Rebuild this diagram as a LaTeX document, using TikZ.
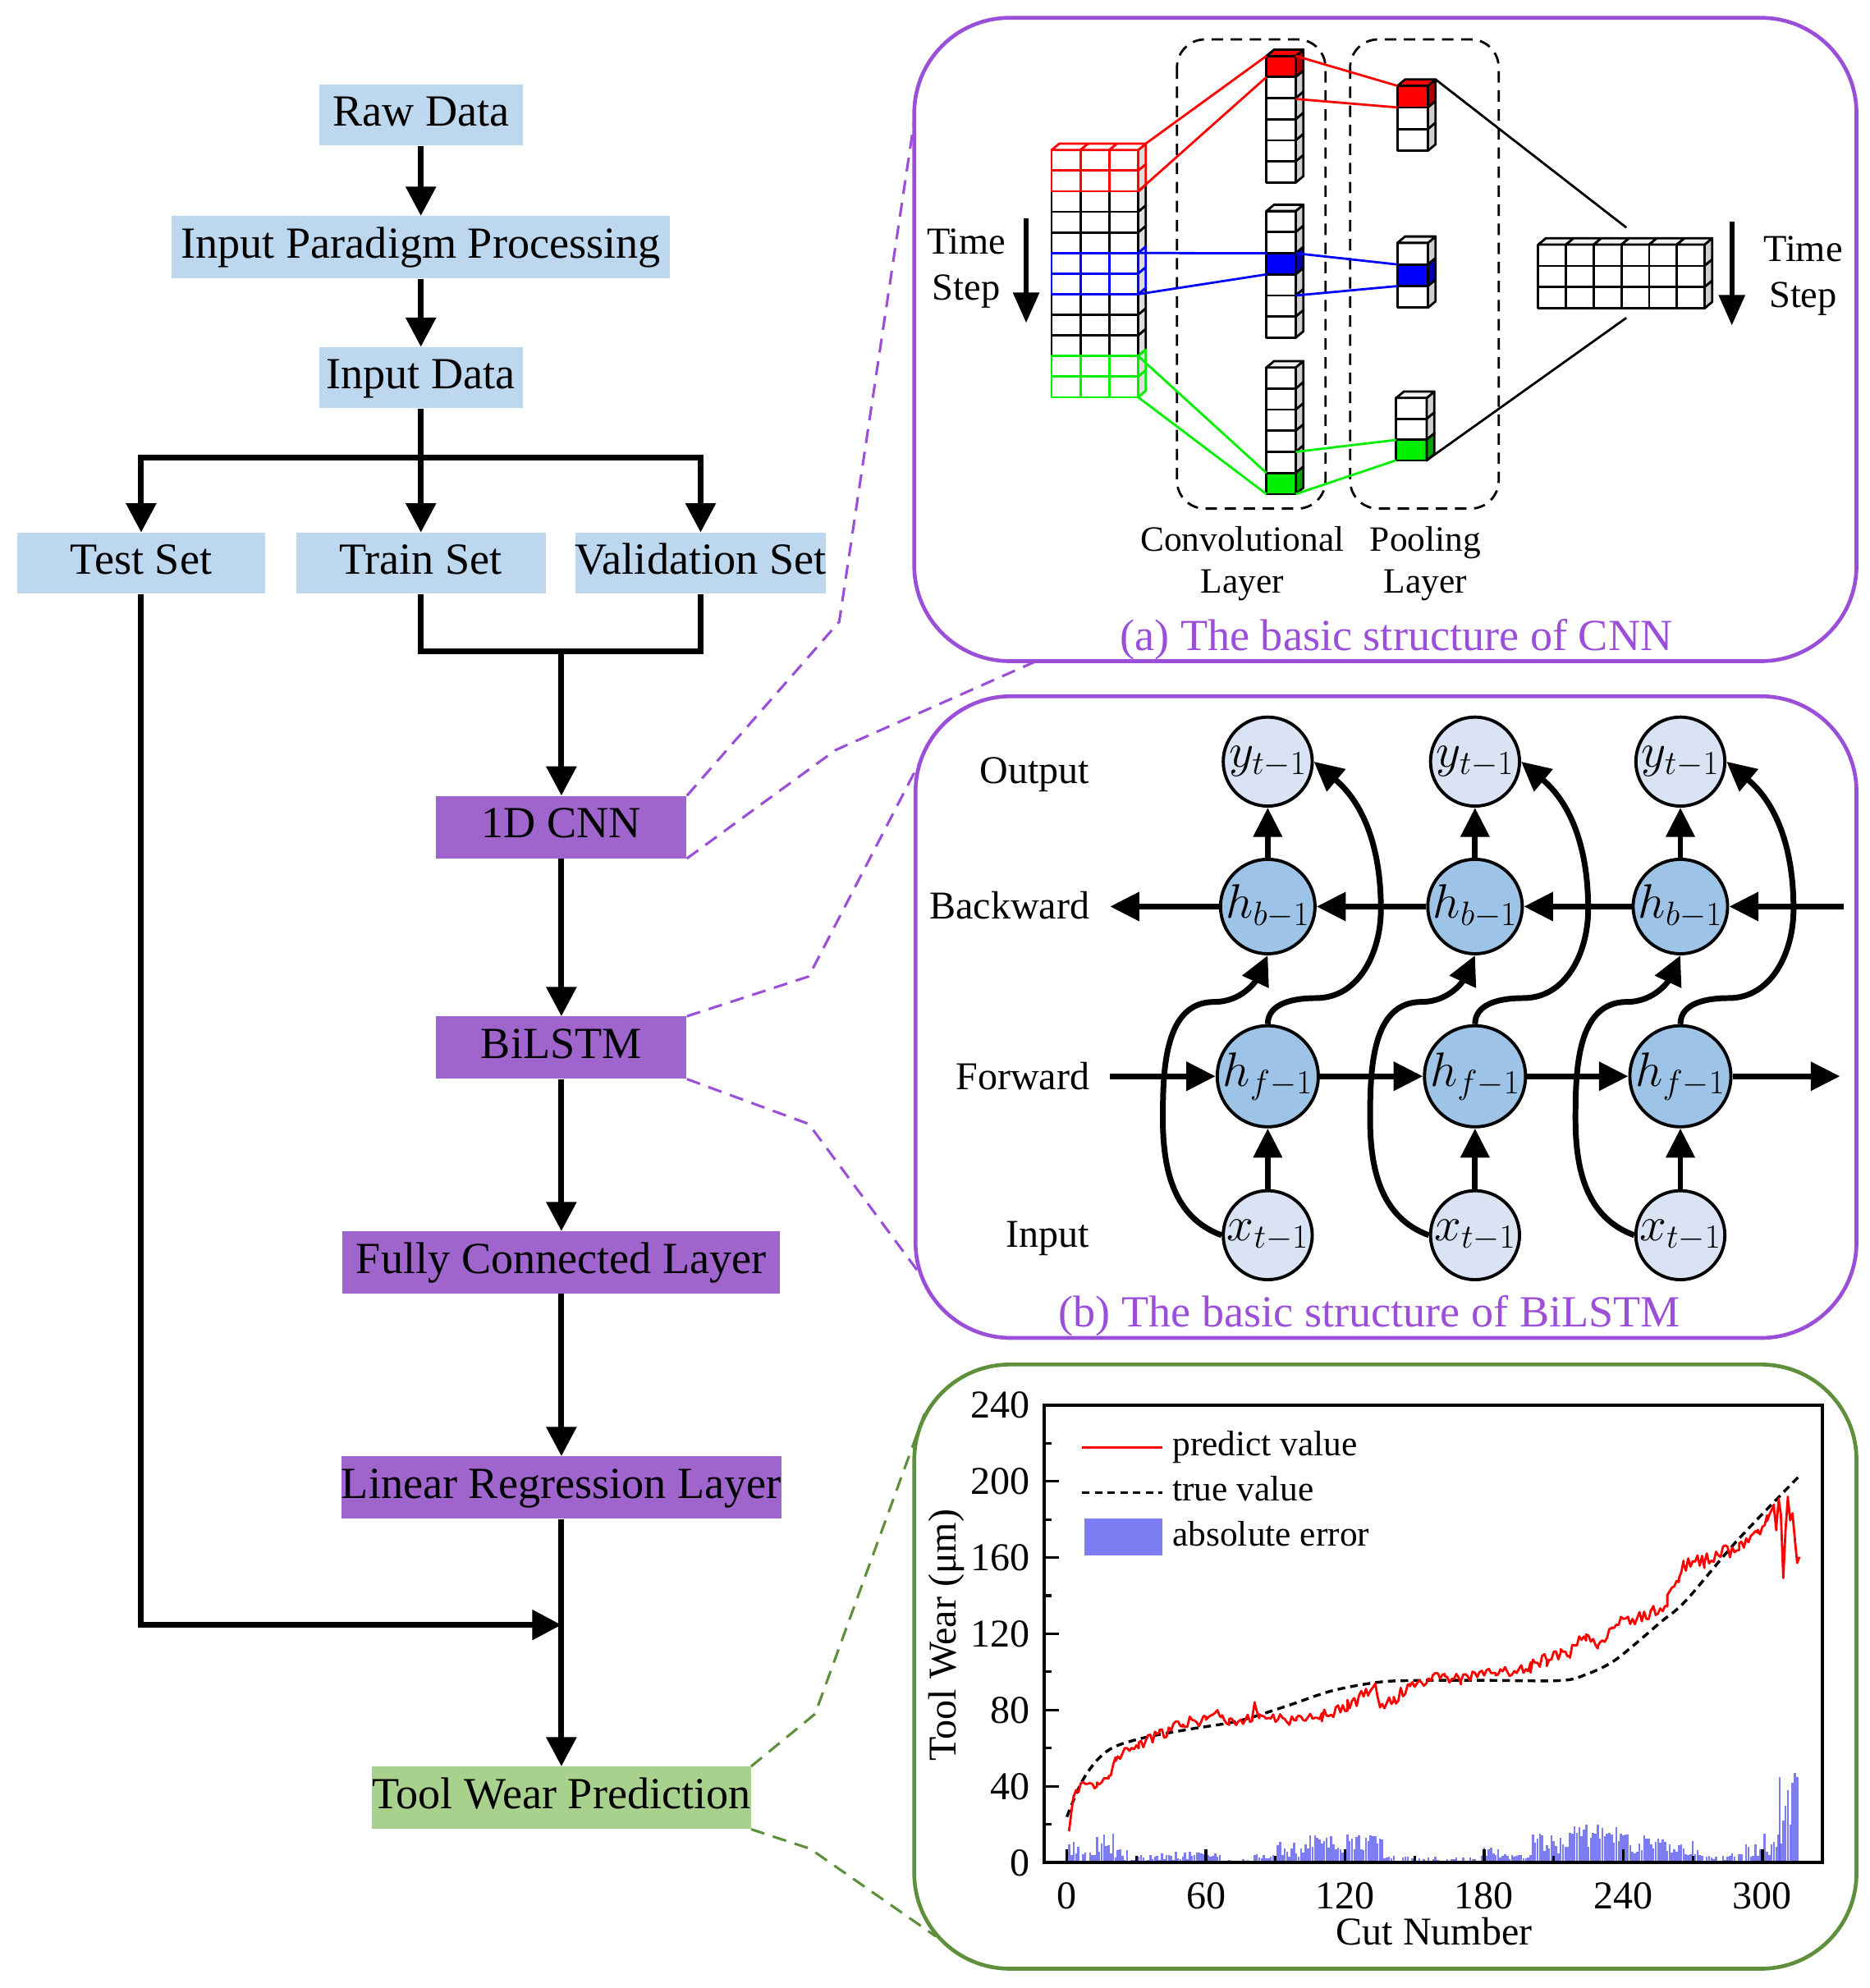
\documentclass[tikz,border=0pt]{standalone}
\usepackage{fix-cm}
\usepackage{fontspec}
\setmainfont{Liberation Serif}
\usetikzlibrary{arrows.meta}
\definecolor{fbBlue}{HTML}{BDD7EE}
\definecolor{fbPurple}{HTML}{A064CD}
\definecolor{fbGreen}{HTML}{A9D18E}
\definecolor{frPurple}{HTML}{9B4FD8}
\definecolor{frGreen}{HTML}{5E8F3A}
\definecolor{cLight}{HTML}{DAE3F3}
\definecolor{cMid}{HTML}{9DC3E6}
\definecolor{sideGray}{HTML}{CFCFCF}
\definecolor{barBlue}{HTML}{5C5CF0}
\definecolor{pureGreen}{HTML}{00EE00}

\newcommand{\stackcol}[7]{%
  \foreach \rr in {1,...,#3}{%
    \pgfmathsetmacro{\yy}{#2+(\rr-1)*#5}%
    \ifnum\rr=#6\relax
      \draw[cubeline, fill=#7] (#1,\yy) rectangle ++(#4,#5);
      \draw[cubeline, fill=#7!70!black] (#1+#4,\yy) -- ++(6,-5) -- ++(0,#5) -- ++(-6,5) -- cycle;
    \else
      \draw[cubeline, fill=white] (#1,\yy) rectangle ++(#4,#5);
      \draw[cubeline, fill=sideGray] (#1+#4,\yy) -- ++(6,-5) -- ++(0,#5) -- ++(-6,5) -- cycle;
    \fi}%
  \ifnum#6=1\relax
    \draw[cubeline, fill=#7] (#1,#2) -- ++(6,-5) -- ++(#4,0) -- ++(-6,5) -- cycle;
  \else
    \draw[cubeline, fill=black!6] (#1,#2) -- ++(6,-5) -- ++(#4,0) -- ++(-6,5) -- cycle;
  \fi
}

\begin{document}
\begin{tikzpicture}[x=1pt,y=-1pt,
  flowtxt/.style={font=\fontsize{35}{40}\selectfont, text height=24pt, text depth=7pt, inner sep=0pt},
  bluebox/.style={flowtxt, fill=fbBlue, minimum height=48pt},
  purplebox/.style={flowtxt, fill=fbPurple, minimum height=49pt},
  greenbox/.style={flowtxt, fill=fbGreen, minimum height=49pt},
  conn/.style={line width=4.5pt},
  arr/.style={conn, -{Triangle[length=23pt,width=23pt]}},
  pdash/.style={draw=frPurple, line width=2pt, dash pattern=on 11pt off 7pt},
  gdash/.style={draw=frGreen, line width=2pt, dash pattern=on 11pt off 7pt},
  frameP/.style={draw=frPurple, line width=3pt, rounded corners=75pt},
  frameG/.style={draw=frGreen, line width=3pt, rounded corners=75pt},
  cubeline/.style={line width=1.8pt, line join=round},
  thinlink/.style={line width=1.8pt},
  dashbox/.style={line width=1.8pt, rounded corners=22pt, dash pattern=on 9pt off 6pt},
  lbl/.style 2 args={font=\fontsize{#1}{#2}\selectfont, inner sep=0pt},
  lightcirc/.style={circle, draw, line width=2.5pt, fill=cLight, minimum size=70pt, inner sep=0pt, font=\fontsize{38}{42}\selectfont},
  midcirc/.style={lightcirc, fill=cMid},
  barr/.style={conn, -{Triangle[length=23pt,width=22pt]}},
  tsarr/.style={line width=4pt, -{Triangle[length=24pt,width=20pt]}},
  ticklab/.style={font=\fontsize{31}{35}\selectfont, inner sep=0pt, text height=21pt, text depth=0pt},
  leglab/.style={font=\fontsize{28}{32}\selectfont, inner sep=0pt, anchor=west, text height=19pt, text depth=6pt},
  predline/.style={draw=red, line width=1.8pt, line join=round},
  trueline/.style={draw=black, line width=2.2pt, dash pattern=on 6pt off 4pt},
  barfill/.style={fill=barBlue, fill opacity=0.8}
]
\useasboundingbox (0,0) rectangle (1470,1563.6);

% ================= flowchart =================
\node[bluebox, minimum width=160pt] (raw) at (331,90.5) {Raw Data};
\node[bluebox, minimum width=392pt, minimum height=49pt] (ipp) at (331,194.5) {Input Paradigm Processing};
\node[bluebox, minimum width=160pt] (inp) at (331,297) {Input Data};
\node[bluebox, minimum width=195pt] (test) at (111,443) {Test Set};
\node[bluebox, minimum width=196pt] (train) at (331,443) {Train Set};
\node[bluebox, minimum width=197pt] (val) at (551,443) {Validation Set};
\node[purplebox, minimum width=197pt] (cnn) at (441.5,650.5) {1D CNN};
\node[purplebox, minimum width=197pt] (bilstm) at (441.5,824) {BiLSTM};
\node[purplebox, minimum width=344pt] (fc) at (441.5,993) {Fully Connected Layer};
\node[purplebox, minimum width=344pt] (lr) at (441.5,1170) {Linear Regression Layer};
\node[greenbox, minimum width=297pt] (twp) at (441.5,1414) {Tool Wear Prediction};

\coordinate (br) at (331,360);
\coordinate (mg) at (441.5,512);
\coordinate (jn) at (441.5,1278);

\draw[arr] (raw) -- (ipp);
\draw[arr] (ipp) -- (inp);
\draw[conn] (inp.south) -- (br);
\draw[arr] (br) -| (test.north);
\draw[arr] (br) -| (val.north);
\draw[arr] (br) -- (train.north);
\draw[conn] (train.south) |- (mg) -| (val.south);
\draw[arr] (mg) -- (cnn.north);
\draw[arr] (cnn) -- (bilstm);
\draw[arr] (bilstm) -- (fc);
\draw[arr] (fc) -- (lr);
\draw[arr] (lr) -- (twp);
\draw[arr] (test.south) |- (jn);

% ================= frames =================
\draw[frameP] (719,14) rectangle (1460,520);
\draw[frameP] (720,547.6) rectangle (1460,1052.3);
\draw[frameG] (719,1073.2) rectangle (1460,1548.4);

% zoom connectors
\coordinate (k1) at (660,489);  \coordinate (a1) at (719,95);
\coordinate (k2) at (657,590);  \coordinate (a2) at (815,520);
\coordinate (k3) at (636,768);  \coordinate (b1) at (723,600);
\coordinate (k4) at (636,884);  \coordinate (b2) at (722,1000);
\coordinate (k5) at (641,1348); \coordinate (c1) at (727,1112);
\coordinate (k6) at (637,1454); \coordinate (c2) at (736,1523);
\draw[pdash] (cnn.north east) -- (k1) -- (a1);
\draw[pdash] (cnn.south east) -- (k2) -- (a2);
\draw[pdash] (bilstm.north east) -- (k3) -- (b1);
\draw[pdash] (bilstm.south east) -- (k4) -- (b2);
\draw[gdash] (twp.north east) -- (k5) -- (c1);
\draw[gdash] (twp.south east) -- (k6) -- (c2);

% ================= (a) CNN =================
\draw[dashbox] (925.6,31) rectangle (1042.4,400);
\draw[dashbox] (1061.8,31) rectangle (1178.6,400);

% input block
\foreach \rr/\cc in {2/black,3/black,4/black,7/black,8/black,9/black,0/red,1/red,5/blue,6/blue,10/pureGreen,11/pureGreen}{
  \pgfmathsetmacro{\yy}{118+\rr*16.2}
  \foreach \kk in {0,1,2}{\draw[cubeline, draw=\cc, fill=white] (827+\kk*22.7,\yy) rectangle ++(22.7,16.2);}
  \draw[cubeline, draw=\cc, fill=sideGray!70] (895.1,\yy) -- ++(6,-5) -- ++(0,16.2) -- ++(-6,5) -- cycle;
}
\foreach \kk in {0,1,2}{\draw[cubeline, draw=red, fill=white] (827+\kk*22.7,118) -- ++(6,-5) -- ++(22.7,0) -- ++(-6,5) -- cycle;}

% conv columns
\stackcol{996}{44}{6}{23}{16.6}{1}{red}
\stackcol{996}{166}{6}{23}{16.6}{3}{blue}
\stackcol{996}{289}{6}{23}{16.6}{6}{pureGreen}
% pool columns
\stackcol{1099}{67.5}{3}{24}{17}{1}{red}
\stackcol{1099}{191}{3}{24}{17}{2}{blue}
\stackcol{1098}{313}{3}{24}{16.4}{3}{pureGreen}
% output block
\foreach \rr in {0,1,2}{
  \foreach \kk in {0,...,5}{\draw[cubeline, fill=white] (1209.7+\kk*21.8,192.4+\rr*16.7) rectangle ++(21.8,16.7);}
  \draw[cubeline, fill=sideGray] (1340.5,192.4+\rr*16.7) -- ++(6,-5) -- ++(0,16.7) -- ++(-6,5) -- cycle;
}
\foreach \kk in {0,...,5}{\draw[cubeline, fill=black!6] (1209.7+\kk*21.8,192.4) -- ++(6,-5) -- ++(21.8,0) -- ++(-6,5) -- cycle;}

% links
\draw[thinlink, red] (901,113) -- (996,44);
\draw[thinlink, red] (895.1,150.4) -- (996,60.6);
\draw[thinlink, red] (1019,44) -- (1099,67.5);
\draw[thinlink, red] (1019,77.8) -- (1099,84.5);
\draw[thinlink, blue] (895.1,199) -- (996,199.2);
\draw[thinlink, blue] (895.1,231.4) -- (996,215.8);
\draw[thinlink, blue] (1019,199.2) -- (1099,208);
\draw[thinlink, blue] (1019,232.4) -- (1099,225);
\draw[thinlink, pureGreen] (895.1,280) -- (996,372);
\draw[thinlink, pureGreen] (895.1,312.4) -- (996,388.6);
\draw[thinlink, pureGreen] (1019,355.4) -- (1098,346);
\draw[thinlink, pureGreen] (1019,388.6) -- (1098,362);
\draw[thinlink, black] (1129,62.5) -- (1279,179);
\draw[thinlink, black] (1122,362) -- (1279,250);

% labels
\node[lbl={30}{36}, align=center] (tsl) at (760,211) {Time\\Step};
\node[lbl={30}{36}, align=center] (tsr) at (1418,217) {Time\\Step};
\coordinate (tla) at (807,172); \coordinate (tlb) at (807,254);
\coordinate (tra) at (1362,174); \coordinate (trb) at (1362,256);
\draw[tsarr] (tla) -- (tlb);
\draw[tsarr] (tra) -- (trb);
\node[lbl={28}{33}, align=center] (convl) at (977,443) {Convolutional\\Layer};
\node[lbl={28}{33}, align=center] (pooll) at (1121,443) {Pooling\\Layer};
\node[lbl={35}{40}, text=frPurple] (capa) at (1098,503) {(a) The basic structure of CNN};

% ================= (b) BiLSTM =================
\foreach \c/\cx in {1/997,2/1160,3/1321.5}{
  \node[lightcirc] (y\c) at (\cx,599) {$y_{t-1}$};
  \node[midcirc] (hb\c) at (\cx,713) {$h_{b-1}$};
  \node[midcirc] (hf\c) at (\cx,846.5) {$h_{f-1}$};
  \node[lightcirc] (x\c) at (\cx,971.5) {$x_{t-1}$};
  \draw[barr] (x\c) -- (hf\c);
  \draw[barr] (hb\c) -- (y\c);
  \draw[barr] (x\c.west) to[out=160,in=-90] (\cx-82.5,880) to[out=90,in=180] (\cx-42,788) to[out=0,in=-115] (hb\c.south);
  \draw[barr] (hf\c.north) to[out=90,in=180] (\cx+38,785) to[out=0,in=-90] (\cx+89,715) to[out=90,in=-40] (y\c.east);
}
\coordinate (fs) at (873,846.5); \coordinate (fe) at (1447,846.5);
\coordinate (bs) at (1450,713);  \coordinate (be) at (873,713);
\draw[barr] (fs) -- (hf1);
\draw[barr] (hf1) -- (hf2);
\draw[barr] (hf2) -- (hf3);
\draw[barr] (hf3) -- (fe);
\draw[barr] (bs) -- (hb3);
\draw[barr] (hb3) -- (hb2);
\draw[barr] (hb2) -- (hb1);
\draw[barr] (hb1) -- (be);
\node[lbl={31}{36}, anchor=east, text height=21pt, text depth=7pt] (lout) at (857,609) {Output};
\node[lbl={31}{36}, anchor=east, text height=21pt, text depth=7pt] (lbwd) at (857,716) {Backward};
\node[lbl={31}{36}, anchor=east, text height=21pt, text depth=7pt] (lfwd) at (857,850) {Forward};
\node[lbl={31}{36}, anchor=east, text height=21pt, text depth=7pt] (linp) at (857,974) {Input};
\node[lbl={35}{40}, text=frPurple] (capb) at (1077,1035) {(b) The basic structure of BiLSTM};

% ================= (c) chart =================
\pgfmathsetseed{4711}
\begin{scope}[shift={(839,1465)}, x=1.8233pt, y=1.5pt]
  \foreach \a/\b/\base/\m in {1/5/3/8, 6/12/0/6, 13/20/5/11, 21/28/1/6, 29/40/0/4, 41/58/0/6, 59/66/1/6, 67/80/0/2, 81/90/0/5, 91/100/3/9, 101/136/5/10, 137/165/0/3.5, 166/178/0/3, 179/200/2/6, 201/215/5/10, 216/240/7/13, 241/258/4/11, 259/272/2/10, 273/292/0/5, 293/300/2/8, 301/305/4/12, 306/308/8/18}{
    \foreach \i in {\a,...,\b}{
      \pgfmathsetmacro{\hh}{\base+\m*rnd}
      \fill[barfill] (\i-0.45,0) rectangle (\i+0.45,\hh);
    }
  }
  \foreach \i/\hh in {307.5/45, 309/22, 310/30, 311/38, 312/20, 313/42, 314/47, 315/45}{
    \fill[barfill] (\i-0.45,0) rectangle (\i+0.45,\hh);
  }
  \draw[trueline] plot[smooth, tension=0.55] coordinates {(0,24) (4,36) (8,45.6) (14,55) (21,61) (34,65.7) (53,70) (74,74.3) (95,82.2) (114,90) (133,94.4) (148,95.5) (180,95.6) (213,95.5) (224,98.7) (235,105) (245,114.5) (256,126) (267,137.4) (289,168.7) (316,202.8)};
  \draw[predline] (1,17)
    \foreach \x/\y/\n [remember=\x as \px (initially 1), remember=\y as \py (initially 17)] in
      {3/35/1.5, 8/43/2.5, 13/41/2.5, 18/43/2.5, 21/54/2.5, 31/62/3, 40/67/3, 50/73/3, 60/75/3, 65/80/0.5, 67/76/1.5, 70/73/1.5, 80/76/3, 81/84/0.5, 83/76/1, 99/75/3, 110/77/3, 121/83/3.5, 130/88/4, 133/94/0.5, 135/82/1, 141/85/4, 148/93/3.5, 163/98/3, 170/96/3, 185/100/3, 200/103/3.5, 207/107/3.5, 213/111/4, 217/109/2, 224/119/4, 229/114/2, 235/124/4, 252/130/4, 259/138/4, 264/149/4, 266/157/2, 275/158/4, 290/166/4, 298/172/4, 302/180/4, 305/186/2, 306/175/1, 307/190/1, 308/182/1, 309/150/0.5, 310/175/1, 311/192/0.5, 312/180/1, 313/183/1, 314/170/1, 315/157/1, 316/160/0.5}
    {\foreach \i in {\px,...,\x}{ -- (\i,{\py+(\y-\py)*(\i-\px)/(\x-\px)+\n*rand}) }};
  \foreach \t in {0,60,...,300}{\draw[line width=2.2pt] (\t,0) -- (\t,7);}
  \foreach \t in {30,90,...,270}{\draw[line width=2pt] (\t,0) -- (\t,3.6);}
  \foreach \t in {0,40,...,240}{\draw[line width=2.2pt] (-9.9,\t) -- (-3.3,\t);}
  \foreach \t in {20,60,...,220}{\draw[line width=2pt] (-9.9,\t) -- (-6.6,\t);}
  \draw[line width=2.6pt] (-9.9,0) rectangle (326,240);
  \foreach \t in {0,60,...,300}{\node[ticklab] (xl\t) at (\t,-17) {\t};}
  \foreach \t in {0,40,...,240}{\node[ticklab, anchor=east] (yl\t) at (-15.9,\t) {\t};}
\end{scope}
\node[lbl={31}{36}, text height=21pt, text depth=7pt] (xtitle) at (1128,1523) {Cut Number};
\node[lbl={31}{36}, rotate=90] (ytitle) at (744.5,1286) {Tool Wear (μm)};
% legend
\coordinate (lg1a) at (851,1138.7); \coordinate (lg1b) at (914,1138.7);
\coordinate (lg2a) at (851,1173.8); \coordinate (lg2b) at (914,1173.8);
\draw[predline] (lg1a) -- (lg1b);
\draw[trueline] (lg2a) -- (lg2b);
\fill[barfill] (852.6,1194.6) rectangle (914.4,1223.4);
\node[leglab] (lgt1) at (922,1138.7) {predict value};
\node[leglab] (lgt2) at (922,1173.8) {true value};
\node[leglab] (lgt3) at (922,1209.5) {absolute error};
\end{tikzpicture}
\end{document}
